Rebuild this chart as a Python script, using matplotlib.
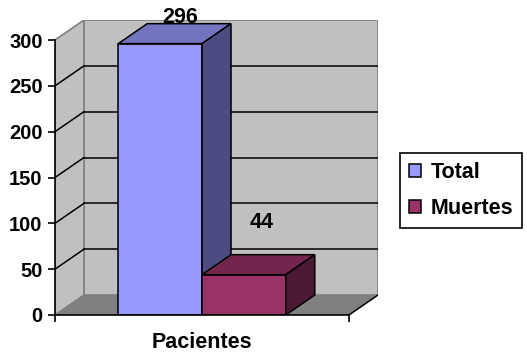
import numpy as np
import matplotlib
matplotlib.use("Agg")
import matplotlib.pyplot as plt
from matplotlib.patches import Polygon, Patch

# data
category = "Pacientes"
series = ["Total", "Muertes"]
values = [296, 44]
yticks = [0, 50, 100, 150, 200, 250, 300]

plt.rcParams['font.family'] = ['Liberation Sans', 'DejaVu Sans']
plt.rcParams['font.weight'] = 'bold'

front = ['#9999FF', '#993366']
top = ['#7373BF', '#73264D']
side = ['#4C4C80', '#4C1933']

fig = plt.figure(figsize=(5.27, 3.58), dpi=100)
W, H = 527, 358
# front plot area: x 55..349 px, value 0..300 -> y 315..40 px; depth 29 px right, 20 px up
ax = fig.add_axes([55 / W, 1 - 315 / H, 323 / W, 295 / H])
ymax = yticks[-1]
px_per_unit = 275 / ymax
dx = 29 / 294
dy = 20 / px_per_unit
ax.set_xlim(0, 1 + dx)
ax.set_ylim(0, ymax + dy)
ax.patch.set_visible(False)

wall = '#C0C0C0'
edge = '#808080'
# back wall, side wall and floor
ax.add_patch(Polygon([(dx, dy), (1 + dx, dy), (1 + dx, ymax + dy), (dx, ymax + dy)],
                     closed=True, facecolor=wall, edgecolor=edge, lw=1.2, zorder=0))
ax.add_patch(Polygon([(0, 0), (dx, dy), (dx, ymax + dy), (0, ymax)],
                     closed=True, facecolor=wall, edgecolor=edge, lw=1.2, zorder=0))
ax.add_patch(Polygon([(0, 0), (1, 0), (1 + dx, dy), (dx, dy)],
                     closed=True, facecolor='#808080', edgecolor='none', zorder=0.5))
ax.plot([1, 1 + dx], [0, dy], color='black', lw=1.1, zorder=0.6)

# gridlines on back and side walls
for v in yticks[1:-1]:
    ax.plot([dx, 1 + dx], [v + dy, v + dy], color='black', lw=1.1, zorder=0.4)
    ax.plot([0, dx], [v, v + dy], color='black', lw=1.1, zorder=0.4)

# 3D bars
width = 0.285
lefts = 0.5 - width * len(values) / 2 + width * np.arange(len(values))
for i, (x0, v) in enumerate(zip(lefts, values)):
    x1 = x0 + width
    ax.bar(x0, v, width, align='edge', color=front[i], edgecolor='black', lw=1.1, zorder=2 + i)
    ax.add_patch(Polygon([(x0, v), (x1, v), (x1 + dx, v + dy), (x0 + dx, v + dy)],
                         closed=True, facecolor=top[i], edgecolor='black', lw=1.1, zorder=2 + i))
    ax.add_patch(Polygon([(x1, 0), (x1 + dx, dy), (x1 + dx, v + dy), (x1, v)],
                         closed=True, facecolor=side[i], edgecolor='black', lw=1.1, zorder=2 + i))

# value labels
label_dx = [0.068, 0.062]
label_dy = [22.5, 50.6]
for i, (x0, v) in enumerate(zip(lefts, values)):
    ax.text(x0 + width / 2 + label_dx[i], v + label_dy[i], str(v), ha='center',
            va='baseline', fontsize=15.5, fontweight='bold', zorder=10)

# axes
for s in ['top', 'right']:
    ax.spines[s].set_visible(False)
ax.spines['left'].set_bounds(0, ymax)
ax.spines['bottom'].set_bounds(0, 1)
ax.spines['left'].set_zorder(5)
ax.spines['bottom'].set_zorder(5)
ax.spines['left'].set_linewidth(1.2)
ax.spines['bottom'].set_linewidth(1.2)
ax.set_yticks(yticks)
ax.set_yticklabels([str(t) for t in yticks])
ax.tick_params(axis='y', length=5, width=1.2, pad=4, labelsize=14.5)
ax.set_xticks([0.5])
ax.set_xticklabels([category])
ax.set_xticks([0, 1], minor=True)
ax.tick_params(axis='x', which='major', length=0, pad=12, labelsize=15.5)
ax.tick_params(axis='x', which='minor', length=5, width=1.2)

handles = [Patch(facecolor=front[i], edgecolor='black', lw=1.1) for i in range(len(series))]
leg = fig.legend(handles, series, loc='upper left', bbox_to_anchor=(400 / W, 1 - 153 / H),
                 fancybox=False, edgecolor='black', framealpha=1, fontsize=15.5,
                 handlelength=0.55, handleheight=0.55, handletextpad=0.45,
                 labelspacing=0.7, borderpad=0.42, borderaxespad=0)
leg.get_frame().set_linewidth(1.2)

fig.savefig('out.png', dpi=100)
